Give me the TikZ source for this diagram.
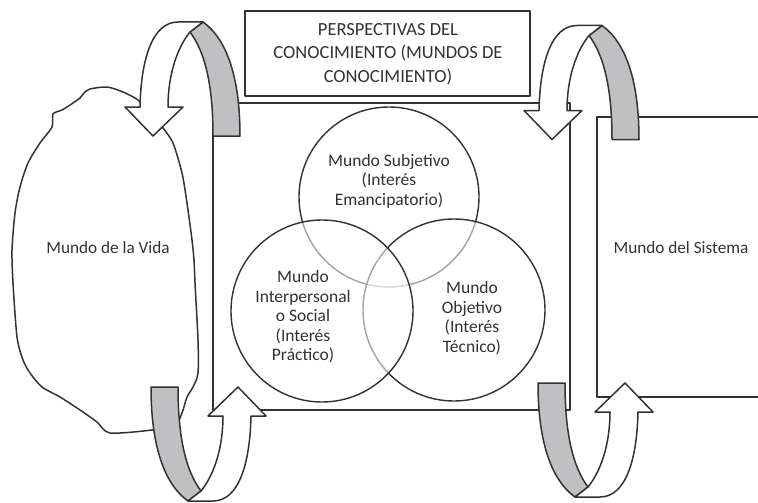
\documentclass[tikz,border=0pt]{standalone}
\usepackage{fontspec}
\setmainfont{Carlito}
\definecolor{ln}{RGB}{50,50,50}
\definecolor{tx}{RGB}{50,50,50}
\definecolor{band}{RGB}{192,192,195}
\begin{document}
\begin{tikzpicture}[x=1pt,y=-1pt,
  line/.style={draw=ln,line width=1.5pt,line join=round},
  lbl/.style={text=tx,font=\fontsize{17.5}{19.5}\selectfont,align=center,inner sep=0pt},
  circ/.style={draw=ln,line width=1.4pt,fill=white,fill opacity=0.55},
  uarrow/.pic={
    \filldraw[line,fill=band] (37,-104) -- (50,-114) .. controls (75,-96) and (87,-56) .. (87,0)
      -- (60,0) .. controls (60,-51) and (52,-84) .. (37,-104) -- cycle;
    \filldraw[line,fill=white] (37,-104) .. controls (24,-88) and (15,-61) .. (15,-29)
      -- (30,-29) -- (0,0) -- (-28,-29) -- (-13,-29)
      .. controls (-12,-76) and (-1,-114) .. (25,-114) -- (50,-114) -- cycle;
  }]
\useasboundingbox (0,0) rectangle (758,503);
% Mundo de la Vida blob
\draw[line] plot[smooth cycle,tension=0.45] coordinates {
 (52,127) (53,114) (62,110) (70,105) (80,98) (84,93) (90,89) (107,87) (123,92) (138,100)
 (150,113) (163,128) (173,143) (182,173) (187,203) (192,240) (194,260) (195,283) (198,340)
 (198,373) (193,387) (187,397) (182,413) (175,425) (152,430) (110,433) (97,422) (80,410)
 (60,397) (42,387) (30,373) (23,360) (17,337) (13,283) (12,250) (15,213) (20,187) (28,163)
 (40,143)};
% central frame
\draw[line] (213,103) rectangle (570,410);
% Mundo del Sistema frame
\draw[line] (760,117) -- (597,117) -- (597,397) -- (760,397);
% title box
\node[line,fill=white,minimum width=285pt,minimum height=85pt,inner sep=0pt] (title) at (387.5,53.5) {};
\node[lbl,font=\fontsize{18.5}{23.5}\selectfont] (titletext) at (388,54) {PERSPECTIVAS DEL\\CONOCIMIENTO (MUNDOS DE\\CONOCIMIENTO)};
% circles
\draw[circ] (389,197) circle (90);
\draw[circ] (454,310) circle (91);
\draw[circ] (322,311) circle (91);
\node[lbl] (subj) at (389,181) {Mundo Subjetivo\\(Interés\\Emancipatorio)};
\node[lbl] (inter) at (303,317) {Mundo\\Interpersonal\\o Social\\(Interés\\Práctico)};
\node[lbl] (obj) at (472,318) {Mundo\\Objetivo\\(Interés\\Técnico)};
\node[lbl,font=\fontsize{17.2}{19.5}\selectfont] (vida) at (108,248) {Mundo de la Vida};
\node[lbl,font=\fontsize{17.2}{19.5}\selectfont] (sist) at (681,248) {Mundo del Sistema};
% curved arrows
\pic at (153,136) {uarrow};
\pic at (552,139.5) {uarrow};
\pic[rotate=180] at (238,387) {uarrow};
\pic[rotate=180] at (625,383) {uarrow};
\end{tikzpicture}
\end{document}
